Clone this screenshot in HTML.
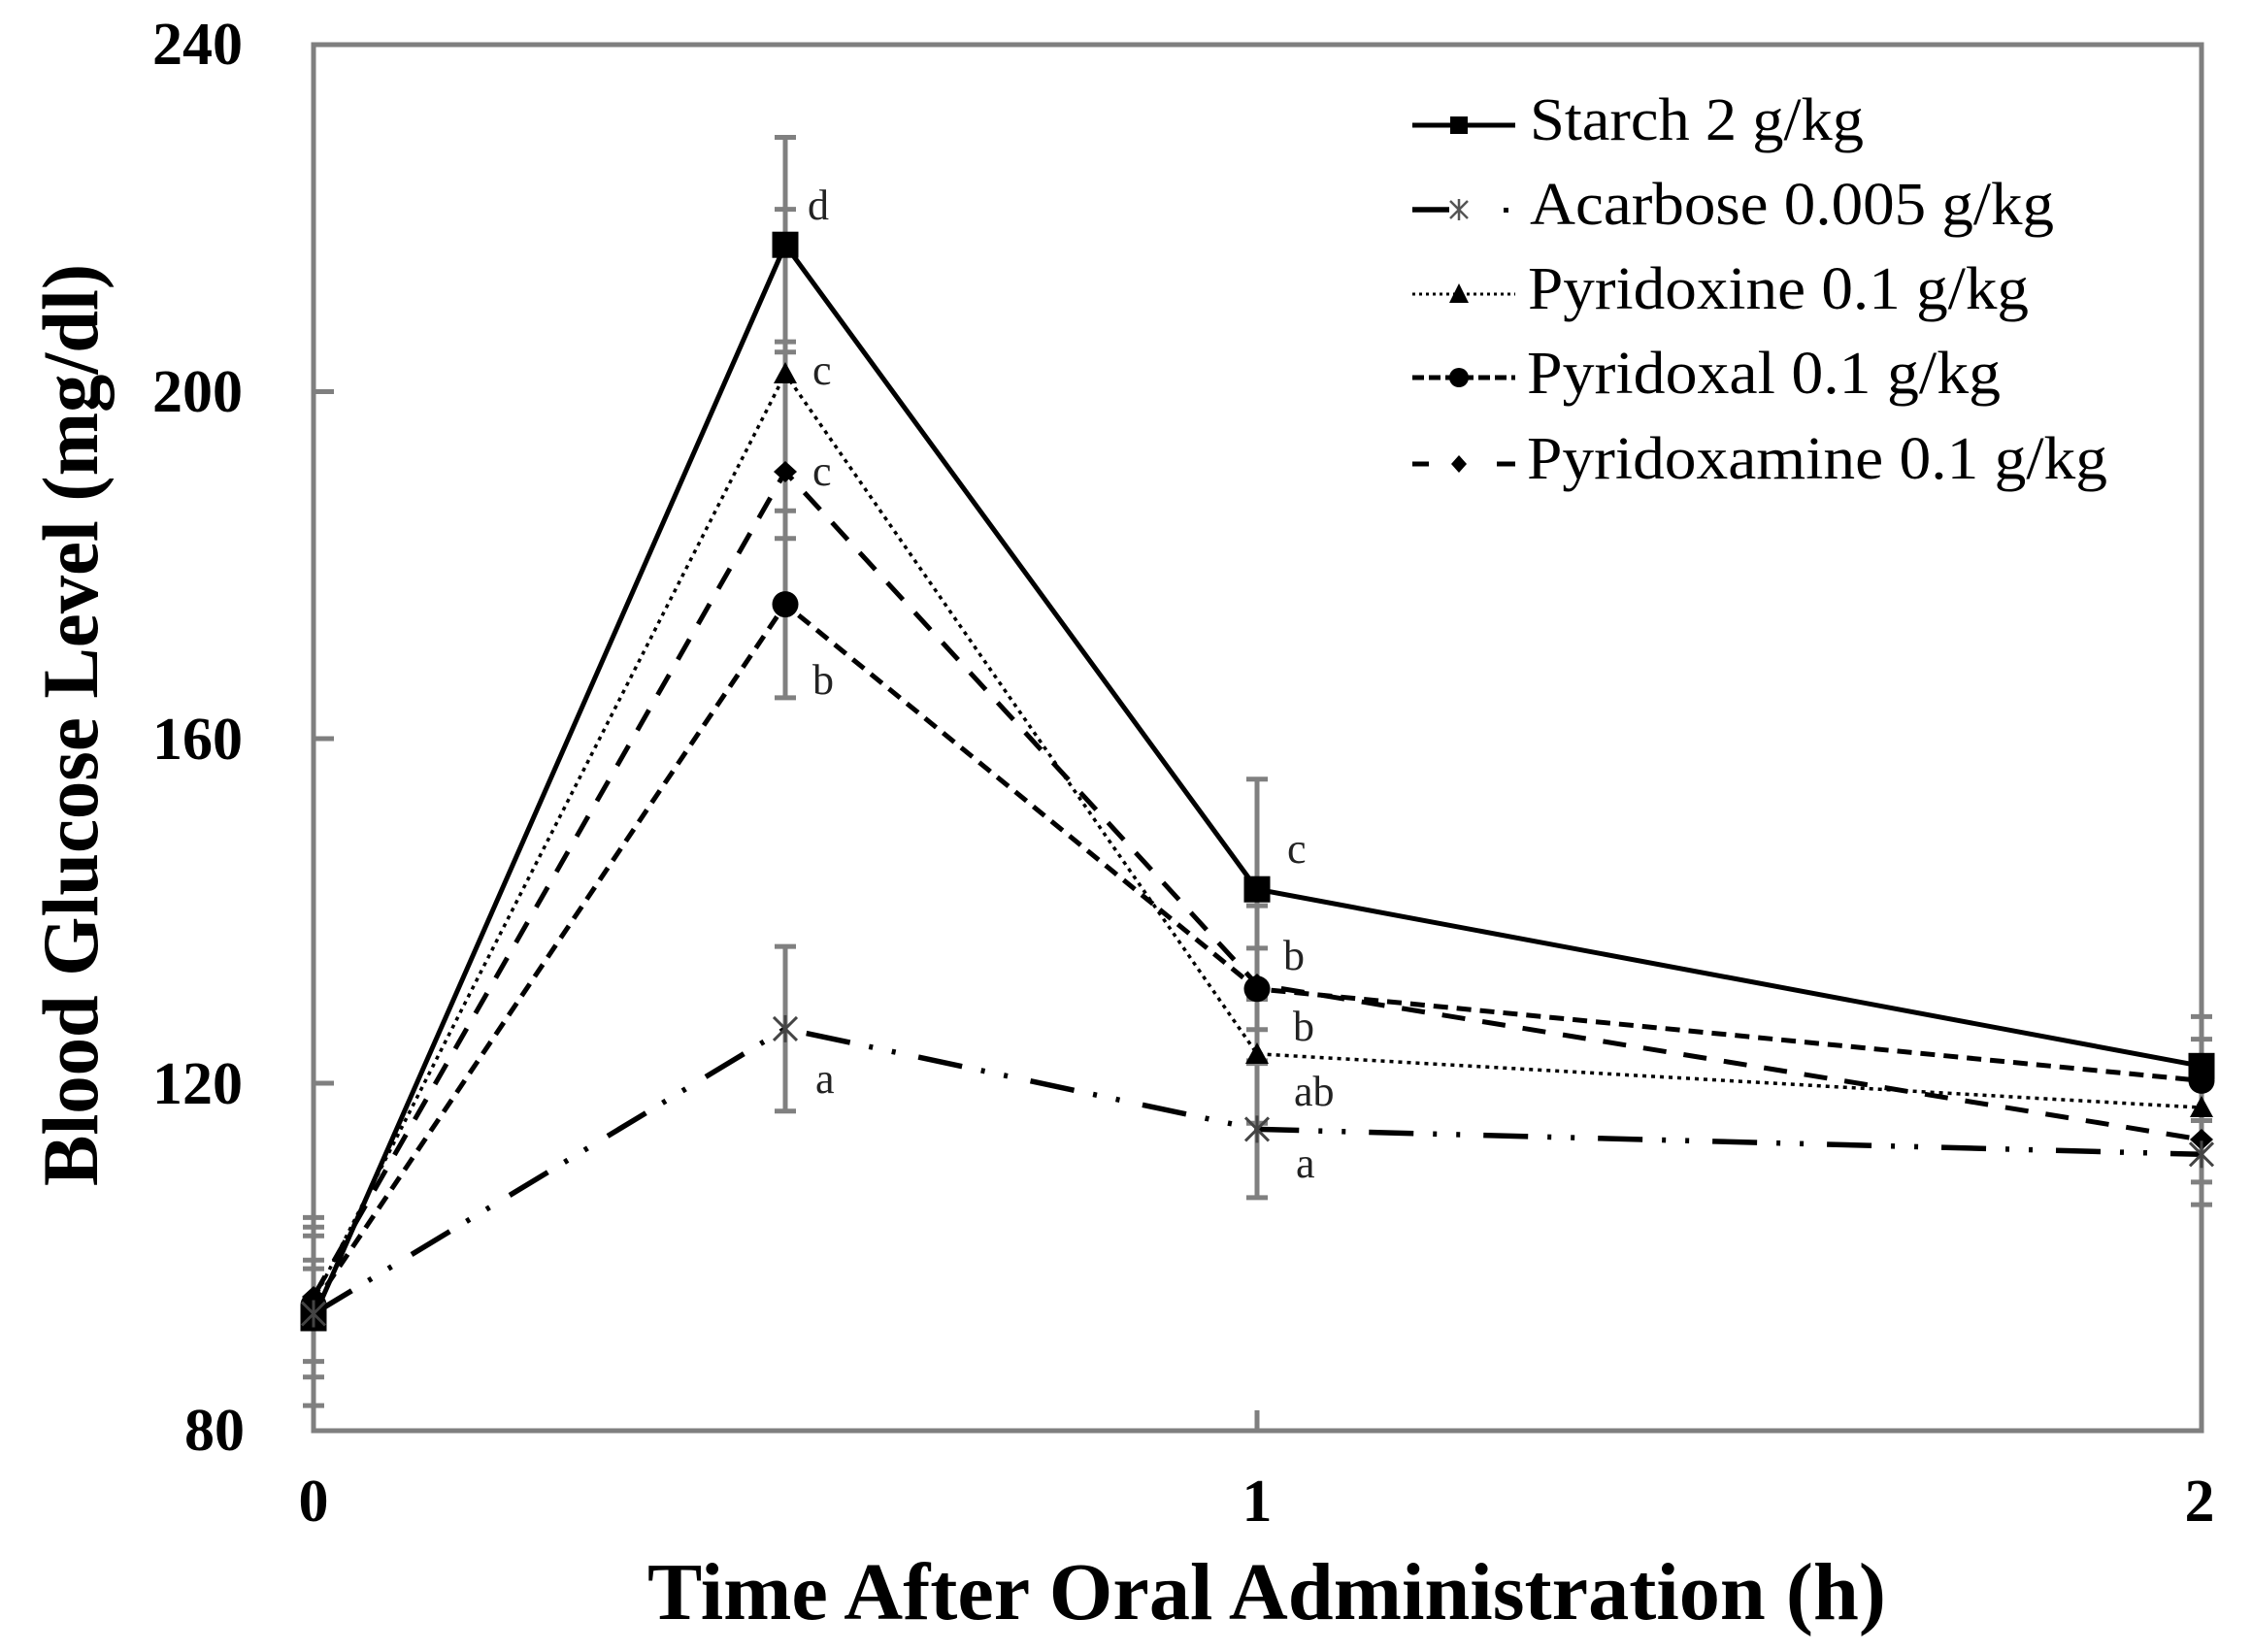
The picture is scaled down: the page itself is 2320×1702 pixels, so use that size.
<!DOCTYPE html>
<html>
<head>
<meta charset="utf-8">
<style>
html,body{margin:0;padding:0;background:#fff;}
svg{display:block;}
text{font-family:"Liberation Serif","Times New Roman",serif;}
</style>
</head>
<body>
<svg width="2320" height="1702" viewBox="0 0 2320 1702" xmlns="http://www.w3.org/2000/svg">
<rect x="0" y="0" width="2320" height="1702" fill="#fff"/>

<!-- Error bars -->
<g stroke="#808080" stroke-width="5" fill="none">
  <!-- t=0.5 -->
  <line x1="809" y1="141.5" x2="809" y2="718.9"/>
  <line x1="798" y1="141.5" x2="820" y2="141.5"/>
  <line x1="798" y1="362.8" x2="820" y2="362.8"/>
  <line x1="798" y1="215.6" x2="820" y2="215.6"/>
  <line x1="798" y1="554.7" x2="820" y2="554.7"/>
  <line x1="798" y1="352.1" x2="820" y2="352.1"/>
  <line x1="798" y1="619.9" x2="820" y2="619.9"/>
  <line x1="798" y1="526.2" x2="820" y2="526.2"/>
  <line x1="798" y1="718.9" x2="820" y2="718.9"/>
  <line x1="809" y1="975.1" x2="809" y2="1144.7"/>
  <line x1="798" y1="975.1" x2="820" y2="975.1"/>
  <line x1="798" y1="1144.7" x2="820" y2="1144.7"/>
  <!-- t=1 -->
  <line x1="1295" y1="802.8" x2="1295" y2="1233.9"/>
  <line x1="1284" y1="802.8" x2="1306" y2="802.8"/>
  <line x1="1284" y1="1029.5" x2="1306" y2="1029.5"/>
  <line x1="1284" y1="976.9" x2="1306" y2="976.9"/>
  <line x1="1284" y1="1060.8" x2="1306" y2="1060.8"/>
  <line x1="1284" y1="933.1" x2="1306" y2="933.1"/>
  <line x1="1284" y1="1095.6" x2="1306" y2="1095.6"/>
  <line x1="1284" y1="1157.2" x2="1306" y2="1157.2"/>
  <line x1="1284" y1="1092.9" x2="1306" y2="1092.9"/>
  <line x1="1284" y1="1233.9" x2="1306" y2="1233.9"/>
  <!-- t=2 -->
  <line x1="2257" y1="1047.4" x2="2279" y2="1047.4"/>
  <line x1="2257" y1="1070.6" x2="2279" y2="1070.6"/>
  <line x1="2257" y1="1154.5" x2="2279" y2="1154.5"/>
  <line x1="2257" y1="1217.9" x2="2279" y2="1217.9"/>
  <line x1="2257" y1="1241.1" x2="2279" y2="1241.1"/>
  <!-- t=0 -->
  <line x1="312" y1="1254.4" x2="334" y2="1254.4"/>
  <line x1="312" y1="1264.3" x2="334" y2="1264.3"/>
  <line x1="312" y1="1273.2" x2="334" y2="1273.2"/>
  <line x1="312" y1="1298.2" x2="334" y2="1298.2"/>
  <line x1="312" y1="1307.1" x2="334" y2="1307.1"/>
  <line x1="312" y1="1402.6" x2="334" y2="1402.6"/>
  <line x1="312" y1="1418.7" x2="334" y2="1418.7"/>
  <line x1="312" y1="1448.1" x2="334" y2="1448.1"/>
</g>

<!-- Axes / frame -->
<g stroke="#7f7f7f" stroke-width="5" fill="none">
  <rect x="323" y="46" width="1945" height="1428"/>
  <line x1="323" y1="403.5" x2="344" y2="403.5"/>
  <line x1="323" y1="761" x2="344" y2="761"/>
  <line x1="323" y1="1116" x2="344" y2="1116"/>
  <line x1="1295" y1="1474" x2="1295" y2="1453"/>
</g>

<!-- Series lines -->
<g fill="none" stroke="#000">
  <polyline points="323,1358 809,252.2 1295,916.2 2268,1098.3" stroke-width="5"/>
  <polyline points="323,1353.5 809,1059.9 1295,1163.4 2268,1189.3" stroke-width="5.5" stroke-dasharray="46 20 4 20 4 24"/>
  <polyline points="323,1340.1 809,385.1 1295,1085.8 2268,1141.1" stroke-width="3.5" stroke-dasharray="4 5"/>
  <polyline points="323,1344.6 809,622.6 1295,1018.8 2268,1113.4" stroke-width="5" stroke-dasharray="15 9"/>
  <polyline points="323,1335.7 809,486 1295,1014.4 2268,1174.1" stroke-width="5" stroke-dasharray="24 18"/>
</g>

<!-- Markers -->
<g fill="#000">
  <!-- Starch squares -->
  <rect x="309.5" y="1344.5" width="27" height="27"/>
  <rect x="795.5" y="238.7" width="27" height="27"/>
  <rect x="1281.5" y="902.7" width="27" height="27"/>
  <rect x="2254.5" y="1084.8" width="27" height="27"/>
  <!-- Pyridoxine triangles -->
  <polygon points="323,1328 335,1350 311,1350"/>
  <polygon points="809,373 821,395 797,395"/>
  <polygon points="1295,1074 1307,1096 1283,1096"/>
  <polygon points="2268,1129 2280,1151 2256,1151"/>
  <!-- Pyridoxal circles -->
  <circle cx="323" cy="1344.6" r="13.5"/>
  <circle cx="809" cy="622.6" r="13.5"/>
  <circle cx="1295" cy="1018.8" r="13.5"/>
  <circle cx="2268" cy="1113.4" r="13.5"/>
  <!-- Pyridoxamine diamonds -->
  <polygon points="323,1325 335,1336 323,1347 311,1336"/>
  <polygon points="809,475 821,486 809,497 797,486"/>
  <polygon points="1295,1003 1307,1014 1295,1025 1283,1014"/>
  <polygon points="2268,1163 2280,1174 2268,1185 2256,1174"/>
</g>
<!-- Acarbose asterisks -->
<g stroke="#444" stroke-width="3" fill="none">
  <path d="M311,1341.5 L335,1365.5 M335,1341.5 L311,1365.5 M323,1339.5 L323,1367.5"/>
  <path d="M797,1047.9 L821,1071.9 M821,1047.9 L797,1071.9 M809,1045.9 L809,1073.9"/>
  <path d="M1283,1151.4 L1307,1175.4 M1307,1151.4 L1283,1175.4 M1295,1149.4 L1295,1177.4"/>
  <path d="M2256,1177.3 L2280,1201.3 M2280,1177.3 L2256,1201.3 M2268,1175.3 L2268,1203.3"/>
</g>

<!-- Significance letters -->
<g font-size="44" fill="#222">
  <text x="832" y="226">d</text>
  <text x="837" y="396">c</text>
  <text x="837" y="500">c</text>
  <text x="837" y="715">b</text>
  <text x="840" y="1126">a</text>
  <text x="1326" y="889">c</text>
  <text x="1322" y="999">b</text>
  <text x="1332" y="1072">b</text>
  <text x="1333" y="1139">ab</text>
  <text x="1335" y="1213">a</text>
</g>

<!-- Y tick labels -->
<g font-size="62" font-weight="bold" fill="#000" text-anchor="end">
  <text x="250" y="66">240</text>
  <text x="250" y="424">200</text>
  <text x="250" y="782">160</text>
  <text x="250" y="1137">120</text>
  <text x="252" y="1494">80</text>
</g>
<!-- X tick labels -->
<g font-size="62" font-weight="bold" fill="#000" text-anchor="middle">
  <text x="323" y="1567">0</text>
  <text x="1295" y="1567">1</text>
  <text x="2266" y="1567">2</text>
</g>

<!-- Axis titles -->
<text x="667" y="1668" font-size="84" font-weight="bold" fill="#000" textLength="1276" lengthAdjust="spacingAndGlyphs">Time After Oral Administration (h)</text>
<text transform="translate(100,1222) rotate(-90)" x="0" y="0" font-size="82" font-weight="bold" fill="#000" textLength="950" lengthAdjust="spacingAndGlyphs">Blood Glucose Level (mg/dl)</text>

<!-- Legend -->
<g>
  <!-- Row 1 Starch -->
  <line x1="1455" y1="129" x2="1561" y2="129" stroke="#000" stroke-width="5"/>
  <rect x="1494" y="120" width="18" height="18" fill="#000"/>
  <text x="1576" y="144" font-size="62" textLength="344" lengthAdjust="spacingAndGlyphs">Starch 2 g/kg</text>
  <!-- Row 2 Acarbose -->
  <line x1="1455" y1="216" x2="1493" y2="216" stroke="#000" stroke-width="5.5"/>
  <path d="M1494,207 L1512,225 M1512,207 L1494,225 M1503,205 L1503,227" stroke="#555" stroke-width="2.5" fill="none"/>
  <rect x="1549" y="214" width="5" height="5" fill="#000"/>
  <text x="1576" y="231" font-size="62" textLength="540" lengthAdjust="spacingAndGlyphs">Acarbose 0.005 g/kg</text>
  <!-- Row 3 Pyridoxine -->
  <line x1="1455" y1="303" x2="1561" y2="303" stroke="#000" stroke-width="3" stroke-dasharray="3 4"/>
  <polygon points="1503,292 1513,312 1493,312" fill="#000"/>
  <text x="1574" y="318" font-size="62" textLength="516" lengthAdjust="spacingAndGlyphs">Pyridoxine 0.1 g/kg</text>
  <!-- Row 4 Pyridoxal -->
  <line x1="1455" y1="389" x2="1561" y2="389" stroke="#000" stroke-width="5" stroke-dasharray="12 5"/>
  <circle cx="1503" cy="389" r="10" fill="#000"/>
  <text x="1573" y="405" font-size="62" textLength="488" lengthAdjust="spacingAndGlyphs">Pyridoxal 0.1 g/kg</text>
  <!-- Row 5 Pyridoxamine -->
  <line x1="1455" y1="478" x2="1472" y2="478" stroke="#000" stroke-width="5"/>
  <line x1="1542" y1="478" x2="1561" y2="478" stroke="#000" stroke-width="5"/>
  <polygon points="1503,469 1511,478 1503,487 1495,478" fill="#000"/>
  <text x="1573" y="493" font-size="62" textLength="598" lengthAdjust="spacingAndGlyphs">Pyridoxamine 0.1 g/kg</text>
</g>
</svg>
</body>
</html>
